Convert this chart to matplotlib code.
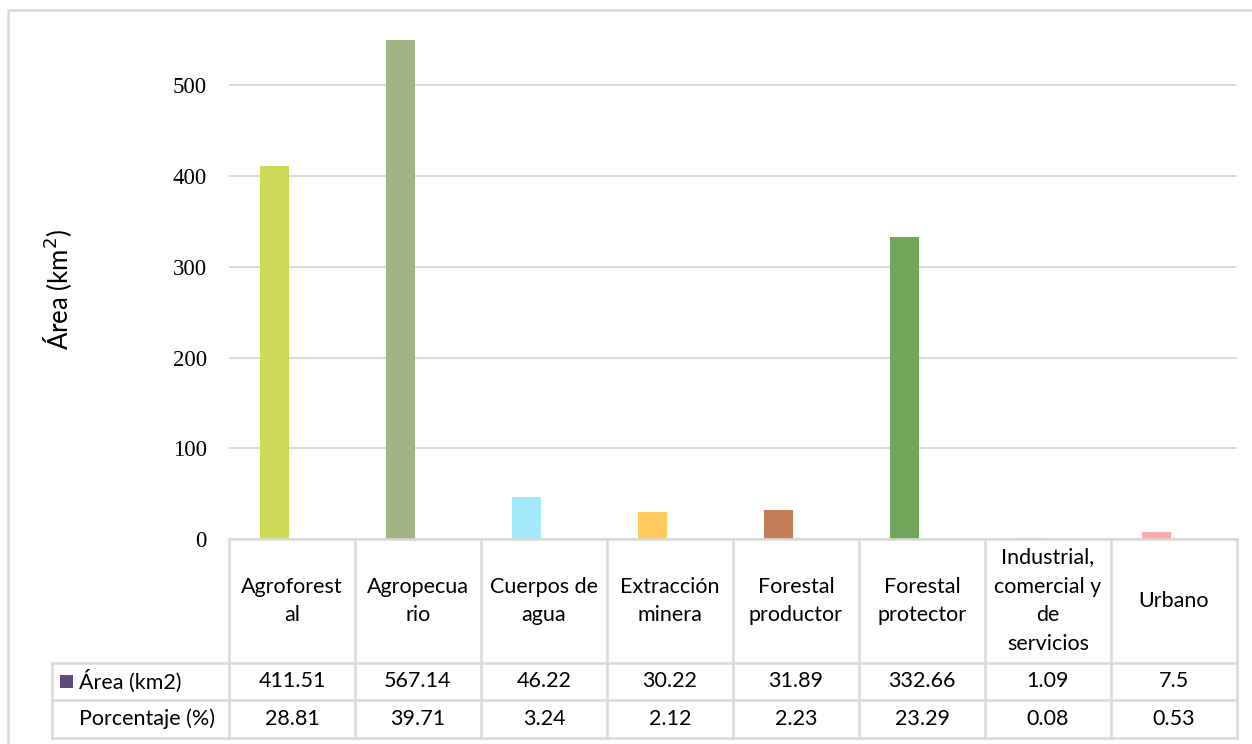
import matplotlib.pyplot as plt
from matplotlib.patches import Rectangle
from matplotlib.transforms import blended_transform_factory

# Land use categories and their areas
categories = ["Agroforest\nal", "Agropecua\nrio", "Cuerpos de\nagua", "Extracción\nminera",
              "Forestal\nproductor", "Forestal\nprotector", "Industrial,\ncomercial y\nde\nservicios",
              "Urbano"]
area_km2 = [411.51, 567.14, 46.22, 30.22, 31.89, 332.66, 1.09, 7.5]
area_labels = ["411.51", "567.14", "46.22", "30.22", "31.89", "332.66", "1.09", "7.5"]
percent_labels = ["28.81", "39.71", "3.24", "2.12", "2.23", "23.29", "0.08", "0.53"]
bar_colors = ["#CEDA56", "#A2B384", "#A3E9FC", "#FFC95C", "#C47F57", "#70A75B", "#BFBFBF", "#FFAAAA"]
yticks = [0, 100, 200, 300, 400, 500]

grid_col = "#D9D9D9"
sans = ["Lato", "DejaVu Sans"]
fs = 15.5

fig = plt.figure(figsize=(12.52, 7.44), dpi=100)
ax = fig.add_axes([229 / 1252, 205 / 744, 1008 / 1252, 499 / 744])

x = list(range(len(categories)))
ax.bar([i - 0.139 for i in x], area_km2, width=0.23, color=bar_colors, zorder=3)

ax.set_xlim(-0.5, len(categories) - 0.5)
ax.set_ylim(0, 550)
ax.set_yticks(yticks)
ax.set_yticklabels([str(t) for t in yticks], family="Liberation Serif", fontsize=16.5)
ax.tick_params(axis="y", length=0, pad=16)
ax.set_xticks([])
ax.grid(axis="y", color=grid_col, linewidth=1.4, zorder=0)
for s in ax.spines.values():
    s.set_visible(False)

fig.text(58 / 1252, (744 - 289.5) / 744, "Área (km$^2$)", rotation=90, ha="center", va="center",
         family=sans, fontsize=18.5)

# data table under the plot: x in data units, y in axes units
tr = blended_transform_factory(ax.transData, ax.transAxes)
y_head = -0.2485
y_row1 = -0.3226
y_row2 = -0.3988
x_left = -1.905
x_right = len(categories) - 0.5
lkw = dict(color=grid_col, linewidth=1.8, transform=tr, clip_on=False, zorder=4)

ax.plot([-0.5, x_right], [0, 0], **lkw)
for yy in (y_head, y_row1, y_row2):
    ax.plot([x_left, x_right], [yy, yy], **lkw)
for i in range(len(categories) + 1):
    ax.plot([i - 0.5, i - 0.5], [0, y_row2], **lkw)
ax.plot([x_left, x_left], [y_head, y_row2], **lkw)

tkw = dict(transform=tr, ha="center", va="center", family=sans, fontsize=fs, clip_on=False)
for i, name in enumerate(categories):
    ax.text(i, y_head / 2, name, linespacing=1.56, **tkw)
    ax.text(i, (y_head + y_row1) / 2, area_labels[i], **tkw)
    ax.text(i, (y_row1 + y_row2) / 2, percent_labels[i], **tkw)

lab_x = x_left + 27 / 126
ax.add_patch(Rectangle((x_left + 8 / 126, (y_head + y_row1) / 2 - 0.0135), 13 / 126, 0.027,
                       facecolor="#604A7B", edgecolor="none", transform=tr, clip_on=False))
ax.text(lab_x, (y_head + y_row1) / 2, "Área (km2)", transform=tr, ha="left", va="center",
        family=sans, fontsize=fs)
ax.text(lab_x, (y_row1 + y_row2) / 2, "Porcentaje (%)", transform=tr, ha="left", va="center",
        family=sans, fontsize=fs)

# outer chart frame
fig.patches.append(Rectangle((7.5 / 1252, -0.1), 1.2, 733.5 / 744 + 0.1, transform=fig.transFigure,
                             fill=False, edgecolor=grid_col, linewidth=1.8))

fig.savefig("out.png", dpi=100)
